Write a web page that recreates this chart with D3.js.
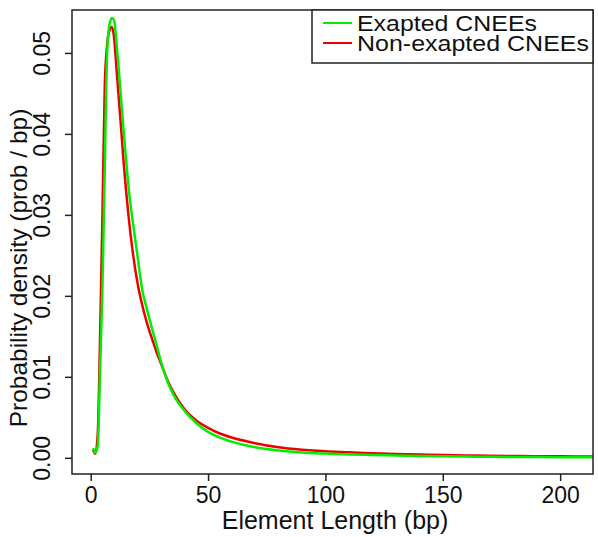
<!DOCTYPE html>
<html>
  <head>
    <title>Element length density</title>
    <script src="https://d3js.org/d3.v7.min.js"></script>
    <style>
      body { margin: 0; background: #fff; }
      text { font-family: "Liberation Sans", Arial, sans-serif; fill: #111; }
    </style>
  </head>
  <body>
    <div id="chart"></div>
    <script>
      // element lengths (bp) where the densities were read
      var lenExapted = [1, 2, 3, 4, 5, 6, 7, 8, 9, 10, 11, 12, 13, 14, 15, 16, 17, 18, 20, 22, 24, 26, 28, 30, 33, 36, 40, 45, 50, 55, 60, 70, 80, 90, 100, 110, 120, 130, 140, 150, 160, 170, 180, 190, 200, 214];
      var densExapted = [0.0012, 0.0006, 0.0015, 0.0110, 0.0210, 0.0360, 0.0500, 0.0535, 0.0543, 0.0540, 0.0512, 0.0478, 0.0442, 0.0405, 0.0370, 0.0338, 0.0312, 0.0290, 0.0248, 0.0207, 0.0183, 0.0161, 0.0140, 0.0118, 0.0092, 0.0074, 0.0058, 0.0043, 0.0032, 0.0025, 0.0020, 0.0013, 0.0009, 0.00065, 0.00052, 0.00042, 0.00035, 0.00028, 0.00022, 0.00018, 0.00015, 0.00012, 0.00010, 0.00009, 0.00008, 0.00007];

      var lenNonExapted = [1, 2, 3, 4, 5, 6, 7, 8, 9, 10, 11, 12, 13, 14, 15, 16, 18, 20, 22, 24, 26, 28, 30, 33, 36, 40, 45, 50, 55, 60, 70, 80, 90, 100, 110, 120, 130, 140, 150, 160, 170, 180, 190, 200, 214];
      var densNonExapted = [0.0010, 0.0005, 0.0030, 0.0150, 0.0300, 0.0460, 0.0510, 0.0528, 0.0532, 0.0518, 0.0480, 0.0443, 0.0405, 0.0366, 0.0332, 0.0302, 0.0252, 0.0215, 0.0188, 0.0166, 0.0148, 0.0131, 0.0116, 0.0094, 0.0077, 0.0060, 0.0046, 0.0037, 0.0030, 0.0025, 0.0018, 0.0013, 0.0010, 0.00080, 0.00068, 0.00055, 0.00047, 0.00040, 0.00034, 0.00030, 0.00026, 0.00023, 0.00020, 0.00018, 0.00016];

      var xTicks = [0, 50, 100, 150, 200];
      var yTicks = [0, 0.01, 0.02, 0.03, 0.04, 0.05];
      var seriesNames = ["Exapted CNEEs", "Non-exapted CNEEs"];
      var seriesColors = ["#00ee00", "#ee0000"];
      var legendWidths = [180, 232];

      var width = 598, height = 537;
      // plot box edges (note: "top" is reserved on window, so use other names)
      var boxL = 72, boxR = 593, boxT = 10, boxB = 474;

      var svg = d3.select("#chart")
        .append("svg")
        .attr("width", width)
        .attr("height", height);

      var x = d3.scaleLinear().domain([-7.97, 214]).range([boxL, boxR]);
      var y = d3.scaleLinear().domain([-0.002, 0.0553]).range([boxB, boxT]);

      var line = d3.line()
        .curve(d3.curveMonotoneX)
        .x(function(d) { return x(d[0]); })
        .y(function(d) { return y(d[1]); });

      // red first, green drawn over it
      var nonEx = lenNonExapted.map(function(v, i) { return [v, densNonExapted[i]]; });
      var ex = lenExapted.map(function(v, i) { return [v, densExapted[i]]; });

      svg.append("path")
        .datum(nonEx)
        .attr("d", line)
        .attr("fill", "none")
        .attr("stroke", seriesColors[1])
        .attr("stroke-width", 2.5)
        .attr("stroke-linejoin", "round");

      svg.append("path")
        .datum(ex)
        .attr("d", line)
        .attr("fill", "none")
        .attr("stroke", seriesColors[0])
        .attr("stroke-width", 2.5)
        .attr("stroke-linejoin", "round");

      // box around the plot
      svg.append("rect")
        .attr("x", boxL).attr("y", boxT)
        .attr("width", boxR - boxL).attr("height", boxB - boxT)
        .attr("fill", "none")
        .attr("stroke", "#222")
        .attr("stroke-width", 1.5);

      // x axis
      var xAxis = svg.append("g")
        .attr("transform", "translate(0," + boxB + ")")
        .call(d3.axisBottom(x).tickValues(xTicks).tickSize(7).tickPadding(6).tickFormat(d3.format("d")));
      xAxis.select(".domain").remove();
      xAxis.selectAll("line").attr("stroke", "#222").attr("stroke-width", 1.5);
      xAxis.selectAll("text").style("font-size", "23px").attr("fill", "#111");

      // y axis, labels turned like R does
      var yAxis = svg.append("g")
        .attr("transform", "translate(" + boxL + ",0)")
        .call(d3.axisLeft(y).tickValues(yTicks).tickSize(7).tickFormat(d3.format(".2f")));
      yAxis.select(".domain").remove();
      yAxis.selectAll("line").attr("stroke", "#222").attr("stroke-width", 1.5);
      yAxis.selectAll("text")
        .style("font-size", "23px")
        .attr("fill", "#111")
        .attr("x", null).attr("dy", null)
        .attr("text-anchor", "middle")
        .attr("transform", "translate(-22,0) rotate(-90)");

      // axis titles
      svg.append("text")
        .attr("x", 335).attr("y", 529)
        .attr("text-anchor", "middle")
        .style("font-size", "25px")
        .text("Element Length (bp)");

      svg.append("text")
        .attr("transform", "translate(27,268) rotate(-90)")
        .attr("text-anchor", "middle")
        .style("font-size", "24.5px")
        .text("Probability density (prob / bp)");

      // legend
      var legend = svg.append("g");
      legend.append("rect")
        .attr("x", 312).attr("y", boxT)
        .attr("width", boxR - 312).attr("height", 53)
        .attr("fill", "#fff")
        .attr("stroke", "#222")
        .attr("stroke-width", 1.5);
      seriesNames.forEach(function(name, i) {
        var ly = 23 + i * 20;
        legend.append("line")
          .attr("x1", 323).attr("x2", 352)
          .attr("y1", ly).attr("y2", ly)
          .attr("stroke", seriesColors[i])
          .attr("stroke-width", 2);
        legend.append("text")
          .attr("x", 357).attr("y", ly + 8)
          .style("font-size", "21.5px")
          .attr("textLength", legendWidths[i])
          .attr("lengthAdjust", "spacingAndGlyphs")
          .text(name);
      });
    </script>
  </body>
</html>
